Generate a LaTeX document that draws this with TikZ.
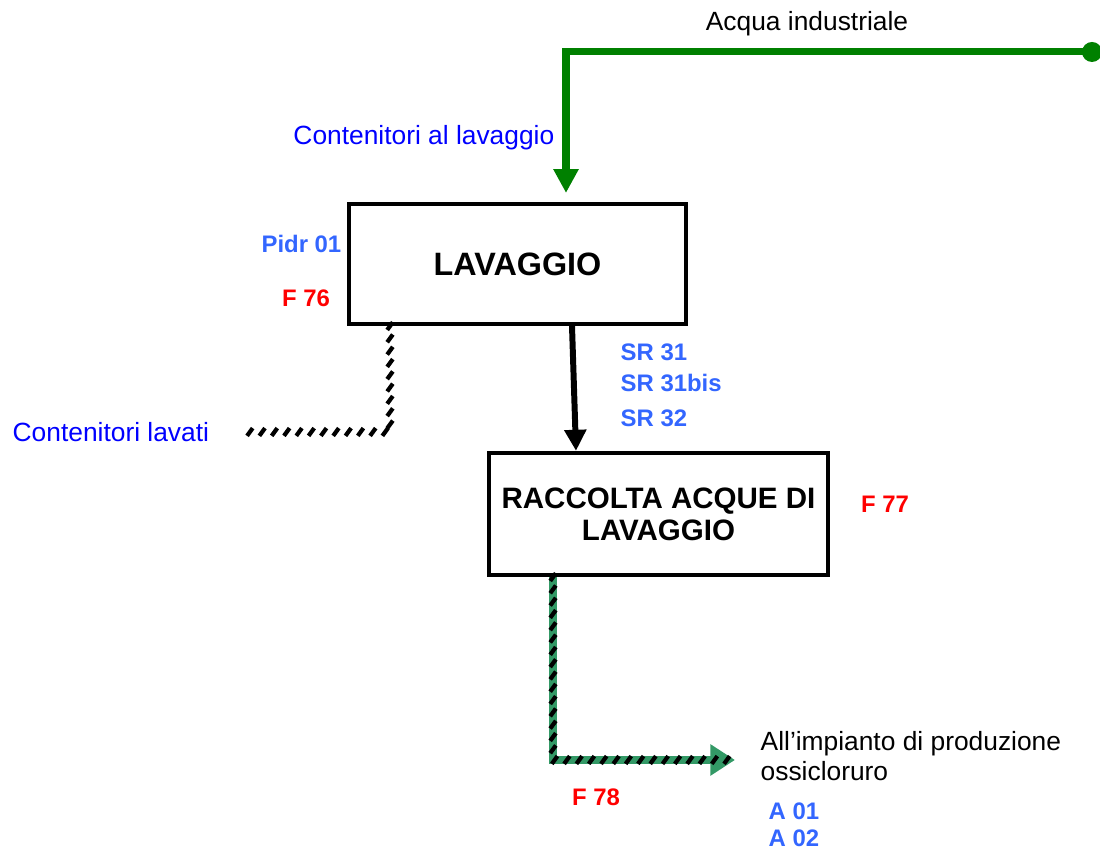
\documentclass[tikz,border=0pt]{standalone}
\usepackage{fontspec}
\setmainfont{Liberation Sans}
\usetikzlibrary{arrows.meta,positioning,calc,decorations.markings}

\definecolor{pipegreen}{RGB}{0,128,0}
\definecolor{washgreen}{RGB}{51,153,102}
\definecolor{codeblue}{RGB}{51,102,255}

\begin{document}
\begin{tikzpicture}[
    stage/.style={rectangle, draw=black, line width=1.2pt, fill=white, align=center, inner sep=1pt, font=\fontsize{9.2}{10.4}\selectfont\bfseries},
    code/.style={inner sep=0pt, text=codeblue, font=\fontsize{6.8}{8}\selectfont\bfseries},
    flux/.style={inner sep=0pt, text=red, font=\fontsize{6.8}{8}\selectfont\bfseries},
    note/.style={inner sep=0pt, align=left, font=\fontsize{7.5}{8.6}\selectfont},
    water/.style={draw=pipegreen, line width=2pt, -{Triangle[length=6.8pt, width=6.8pt]}},
    drain/.style={line width=1.7pt, -{Triangle[length=6pt, width=6pt]}},
    hatch/.style={draw=#1, line width=2.3pt, postaction={decorate, decoration={markings,
        mark=between positions 0 and 1 step 3.5pt with {\pgftransformresetnontranslations
        \draw[black, line width=1.2pt, arrows=-] (-0.8pt,-1.1pt) -- (0.8pt,1.1pt);}}}},
]
    \useasboundingbox (0,0) rectangle (11,8.5);

    % process stages
    \node[stage, minimum width=3.37cm, minimum height=1.2cm] (lav) at (5.175,5.86) {LAVAGGIO};
    \node[stage, minimum width=3.39cm, minimum height=1.22cm, font=\fontsize{8.4}{9.1}\selectfont\bfseries] (racc) at (6.585,3.36) {RACCOLTA ACQUE DI\\LAVAGGIO};

    % free ends of the streams
    \coordinate (src) at (10.92,7.98);
    \coordinate (inlet) at (5.66,6.57);
    \coordinate (washed) at (2.40,4.18);
    \coordinate (plant) at (7.35,0.90);

    % streams
    \draw[water] (src) -| (inlet);
    \fill[pipegreen] (src) circle (0.1);
    \draw[drain] ([xshift=0.545cm]lav.south) -- ([xshift=-0.825cm]racc.north);
    \draw[hatch=white] ([xshift=-1.275cm]lav.south) |- (washed);
    \draw[hatch=washgreen, -{Triangle[length=7pt, width=8.5pt]}] ([xshift=-1.055cm]racc.south) |- (plant);

    % labels
    \node[note] (acqua) at (8.07,8.26) {Acqua industriale};
    \node[note, anchor=east, text=blue] (cont) at (5.55,7.12) {Contenitori al lavaggio};
    \node[note, anchor=west, text=blue] (lavati) at (0.12,4.18) {Contenitori lavati};
    \node[note, anchor=west] (impianto) at (7.60,0.94) {All’impianto di produzione\\ossicloruro};

    \node[code, anchor=east] (pidr) at (3.42,6.06) {Pidr 01};
    \node[flux] (f76) at (3.06,5.52) {F 76};
    \node[code, anchor=west] (sr31) at (6.20,4.98) {SR 31};
    \node[code, anchor=west] (sr31b) at (6.20,4.67) {SR 31bis};
    \node[code, anchor=west] (sr32) at (6.20,4.32) {SR 32};
    \node[flux] (f77) at (8.85,3.46) {F 77};
    \node[flux] (f78) at (5.96,0.53) {F 78};
    \node[code, anchor=west] (a01) at (7.68,0.39) {A 01};
    \node[code, anchor=west] (a02) at (7.68,0.12) {A 02};
\end{tikzpicture}
\end{document}
